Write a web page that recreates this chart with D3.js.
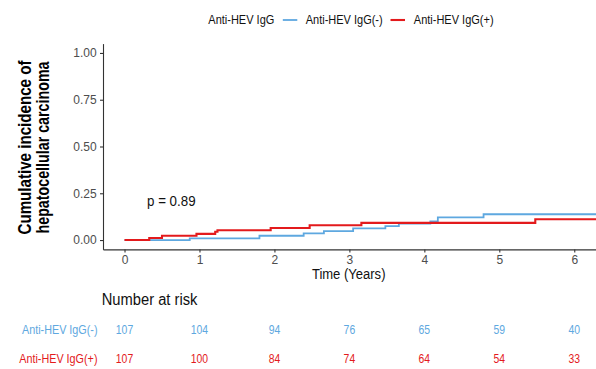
<!DOCTYPE html>
<html>
<head>
<meta charset="utf-8">
<script src="https://cdn.jsdelivr.net/npm/d3@7/dist/d3.min.js"></script>
<style>
  html, body { margin: 0; padding: 0; background: #fff; }
  svg { display: block; font-family: "Liberation Sans", Arial, Helvetica, sans-serif; }
</style>
</head>
<body>
<svg id="chart" width="596" height="369"></svg>
<script>
// ---- data ----
const seriesNames = ["Anti-HEV IgG(-)", "Anti-HEV IgG(+)"];
const timesNeg = [0, 0.87, 1.80, 2.39, 2.66, 3.05, 3.48, 3.66, 4.08, 4.18, 4.79, 6.3];
const cumNeg   = [0, 0.009, 0.023, 0.036, 0.048, 0.062, 0.074, 0.088, 0.099, 0.121, 0.138, 0.138];
const timesPos = [0, 0.33, 0.50, 0.96, 1.21, 1.24, 1.95, 2.47, 3.16, 5.48, 6.3];
const cumPos   = [0, 0.011, 0.023, 0.033, 0.044, 0.052, 0.064, 0.079, 0.092, 0.111, 0.111];
const xTicks = [0, 1, 2, 3, 4, 5, 6];
const yTicks = [0, 0.25, 0.5, 0.75, 1.0];
const riskTimes = [0, 1, 2, 3, 4, 5, 6];
const riskNeg = [107, 104, 94, 76, 65, 59, 40];
const riskPos = [107, 100, 84, 74, 64, 54, 33];
const pLabel = "p = 0.89";

const colors = ["#5ea8e0", "#e31a1c"];

const svg = d3.select("#chart");

// horizontal squeeze helper (narrow-looking text of the original rendering)
function squeeze(sel, f) {
  sel.each(function () {
    const L = this.getComputedTextLength();
    d3.select(this).attr("textLength", L * f).attr("lengthAdjust", "spacingAndGlyphs");
  });
}

const x = d3.scaleLinear().domain([-0.287, 6.29]).range([103, 596]);
const y = d3.scaleLinear().domain([-0.05, 1.05]).range([249.4, 43.6]);

// axes
const axisColor = "#333";
const gy = svg.append("g").attr("transform", "translate(103,0)")
  .call(d3.axisLeft(y).tickValues(yTicks).tickFormat(d3.format(".2f")).tickSize(3).tickSizeOuter(0).tickPadding(3.3));
const gx = svg.append("g").attr("transform", "translate(0,249.4)")
  .call(d3.axisBottom(x).tickValues(xTicks).tickFormat(d3.format("d")).tickSize(3).tickSizeOuter(0).tickPadding(3.3));
[gx, gy].forEach(g => {
  g.select(".domain").attr("stroke", axisColor).attr("stroke-width", 1.1);
  g.selectAll(".tick line").attr("stroke", axisColor).attr("stroke-width", 1.1);
  g.selectAll(".tick text").attr("fill", "#4d4d4d").style("font-size", "12px")
    .style("font-family", "'Liberation Sans', Arial, sans-serif");
});

// curves
const line = d3.line().x(d => x(d[0])).y(d => y(d[1])).curve(d3.curveStepAfter);
const dataNeg = timesNeg.map((t, i) => [t, cumNeg[i]]);
const dataPos = timesPos.map((t, i) => [t, cumPos[i]]);
svg.append("path").datum(dataNeg).attr("d", line).attr("fill", "none")
  .attr("stroke", colors[0]).attr("stroke-width", 1.8);
svg.append("path").datum(dataPos).attr("d", line).attr("fill", "none")
  .attr("stroke", colors[1]).attr("stroke-width", 2.1);

// p value
svg.append("text").attr("x", x(0.3)).attr("y", 206).attr("fill", "#111")
  .style("font-size", "14.5px").text(pLabel).call(squeeze, 0.92);

// y title
const yt = svg.append("text").attr("transform", "translate(30.5,147.5) rotate(-90)")
  .attr("text-anchor", "middle").style("font-size", "18px").style("font-weight", "bold").attr("fill", "#000");
yt.append("tspan").attr("x", 0).attr("dy", 0).text("Cumulative incidence of").attr("textLength", 174).attr("lengthAdjust", "spacingAndGlyphs");
yt.append("tspan").attr("x", 0).attr("dy", 18.5).text("hepatocellular carcinoma").attr("textLength", 172).attr("lengthAdjust", "spacingAndGlyphs");

// x title
svg.append("text").attr("x", 348.7).attr("y", 279).attr("text-anchor", "middle")
  .style("font-size", "14px").attr("fill", "#111").text("Time (Years)").call(squeeze, 0.93);

// legend
const lg = svg.append("g");
lg.append("text").attr("x", 208.3).attr("y", 24).style("font-size", "12.5px").attr("fill", "#111")
  .text("Anti-HEV IgG").call(squeeze, 0.88);
const keyX = [282.8, 390.5];
const labX = [305.7, 413.8];
seriesNames.forEach((n, i) => {
  lg.append("line").attr("x1", keyX[i]).attr("x2", keyX[i] + 14.5).attr("y1", 20).attr("y2", 20)
    .attr("stroke", colors[i]).attr("stroke-width", i === 0 ? 1.8 : 2.1);
  lg.append("text").attr("x", labX[i]).attr("y", 24).style("font-size", "12.5px").attr("fill", "#111")
    .text(n).call(squeeze, 0.88);
});

// risk table
svg.append("text").attr("x", 101.7).attr("y", 305).style("font-size", "16px").attr("fill", "#111")
  .text("Number at risk").call(squeeze, 0.92);
const rowY = [334.3, 363.3];
const riskRows = [riskNeg, riskPos];
riskRows.forEach((row, r) => {
  svg.append("text").attr("x", 97.5).attr("y", rowY[r]).attr("text-anchor", "end")
    .style("font-size", "13px").attr("fill", colors[r]).text(seriesNames[r]).call(squeeze, 0.83);
  svg.append("g").selectAll("text").data(row).join("text")
    .attr("x", (d, i) => x(riskTimes[i])).attr("y", rowY[r]).attr("text-anchor", "middle")
    .style("font-size", "13px").attr("fill", colors[r]).text(d => d).call(squeeze, 0.8);
});
</script>
</body>
</html>
